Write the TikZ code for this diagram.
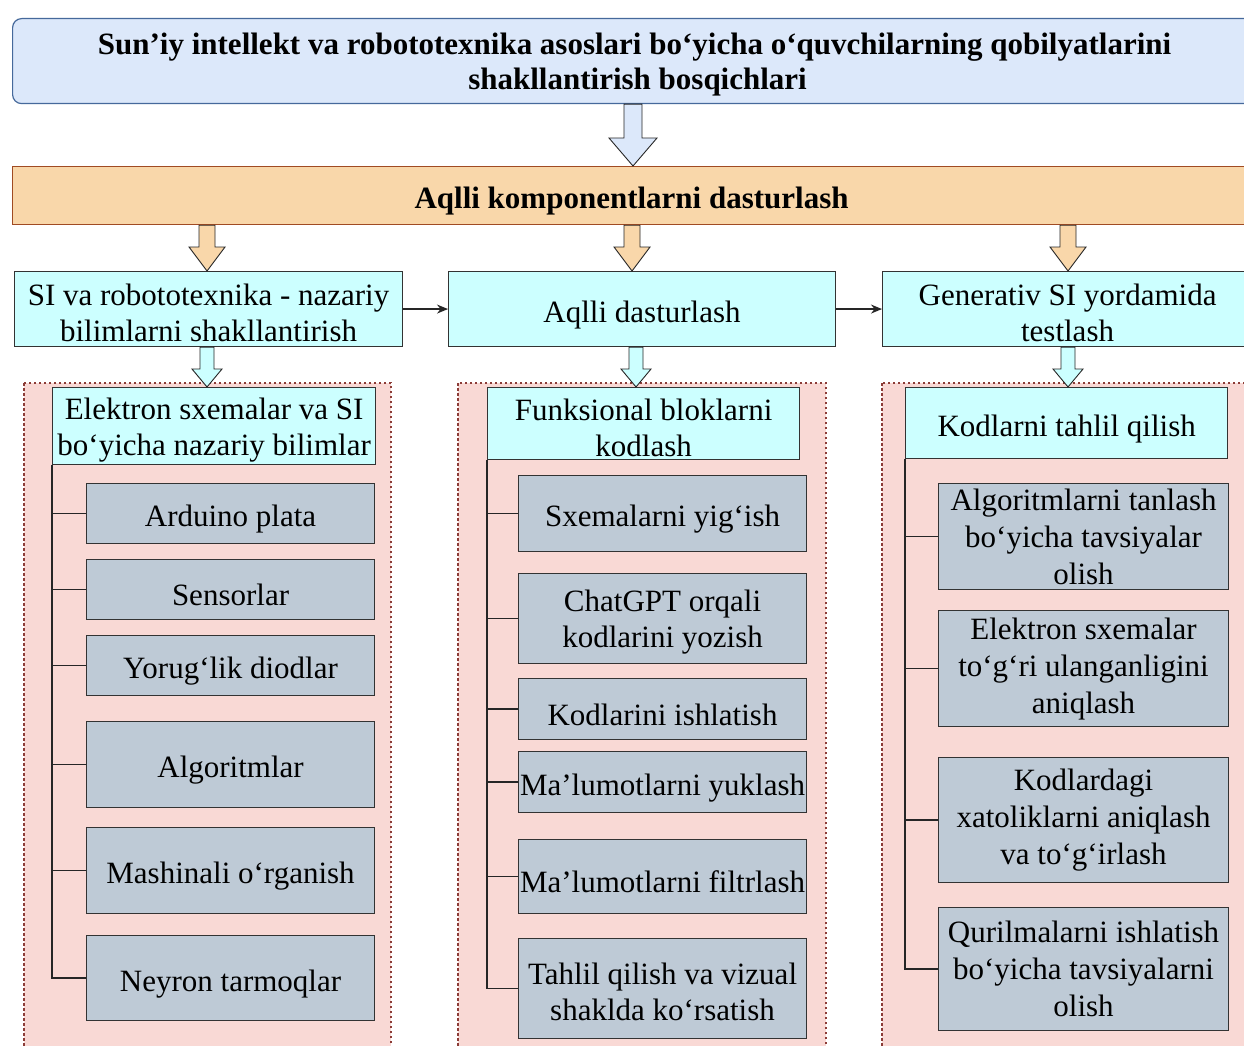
\documentclass[tikz,border=0pt]{standalone}
\usepackage{fontspec}
\setmainfont{Liberation Serif}
\usetikzlibrary{calc,arrows.meta}
\definecolor{topfill}{RGB}{220,232,250}
\definecolor{topdraw}{RGB}{70,105,155}
\definecolor{bandfill}{RGB}{249,215,170}
\definecolor{banddraw}{RGB}{160,75,35}
\definecolor{cyanfill}{RGB}{204,255,255}
\definecolor{pinkfill}{RGB}{249,217,213}
\definecolor{pinkdraw}{RGB}{140,60,55}
\definecolor{itemfill}{RGB}{190,202,214}
\newcommand\lowerone{\rule{0pt}{33pt}}
\newcommand\lowertwo{\rule{0pt}{29pt}}
\newcommand\blkarrow[7]{%
  \draw[fill=#7, draw=black!85, line width=0.9pt] let \p1=(#2), \p2=(#3) in
    (#1pt-#4pt,\y1) -- (#1pt+#4pt,\y1) -- (#1pt+#4pt,\y2+#6pt) -- (#1pt+#5pt,\y2+#6pt)
    -- (#1pt,\y2) -- (#1pt-#5pt,\y2+#6pt) -- (#1pt-#4pt,\y2+#6pt) -- cycle;}
\begin{document}
\begin{tikzpicture}[x=1pt,y=-1pt,
  base/.style={anchor=north west, inner sep=0pt, align=center,
    font=\fontsize{31}{36}\selectfont},
  topbox/.style={base, fill=topfill, draw=topdraw, line width=1.2pt, rounded corners=9pt,
    font=\fontsize{31}{35}\selectfont\bfseries},
  bandbox/.style={base, fill=bandfill, draw=banddraw, line width=1.2pt,
    font=\fontsize{31}{36}\selectfont\bfseries},
  stagebox/.style={base, fill=cyanfill, draw=black!80, line width=1.1pt},
  headbox/.style={base, fill=cyanfill, draw=black!80, line width=1.3pt},
  itembox/.style={base, fill=itemfill, draw=black!80, line width=1.1pt},
  itemthree/.style={itembox, font=\fontsize{31}{37}\selectfont},
  panel/.style={fill=pinkfill, draw=pinkdraw, line width=1.2pt, dash pattern=on 2.5pt off 2.5pt},
  tree/.style={draw=black!85, line width=1.2pt},
  flow/.style={draw=black!85, line width=1.3pt, -{Stealth[length=11pt,width=9pt]}}
  ]
\useasboundingbox (0,0) rectangle (1244,1046);
\fill[white] (0,0) rectangle (1244,1046);

% panels
\draw[panel] (24,383) rectangle (391,1052);
\draw[panel] (458,383) rectangle (826,1052);
\draw[panel] (882,383) rectangle (1252,1052);

% top
\node[topbox, minimum width=1250pt, minimum height=85pt] (top) at (12,18)
  {\lowertwo\hspace*{-6pt}Sun’iy intellekt va robototexnika asoslari bo‘yicha o‘quvchilarning qobilyatlarini\\shakllantirish bosqichlari};
\node[bandbox, minimum width=1250pt, minimum height=58pt] (band) at (12,166)
  {\lowerone\hspace*{-12pt}Aqlli komponentlarni dasturlash};

% stages
\node[stagebox, minimum width=388pt, minimum height=75pt] (A) at (14,271)
  {\lowertwo SI va robototexnika - nazariy\\bilimlarni shakllantirish};
\node[stagebox, minimum width=387pt, minimum height=75pt] (B) at (448,271)
  {\lowerone Aqlli dasturlash};
\node[stagebox, minimum width=370pt, minimum height=75pt] (C) at (882,271)
  {\lowertwo Generativ SI yordamida\\testlash};

% block arrows
\blkarrow{633}{top.south}{band.north}{9}{24}{28}{topfill}
\blkarrow{207}{band.south}{A.north}{8}{18}{24}{bandfill}
\blkarrow{632}{band.south}{B.north}{8}{18}{24}{bandfill}
\blkarrow{1068}{band.south}{C.north}{8}{18}{24}{bandfill}

\draw[flow] (A.east) -- (B.west);
\draw[flow] (B.east) -- (C.west);

% headers
\node[headbox, minimum width=323pt, minimum height=77pt] (h1) at (52,387)
  {\lowertwo Elektron sxemalar va SI\\bo‘yicha nazariy bilimlar};
\node[headbox, minimum width=312pt, minimum height=72pt] (h2) at (487,387)
  {\lowertwo Funksional bloklarni\\kodlash};
\node[headbox, minimum width=322pt, minimum height=71pt] (h3) at (905,387)
  {\lowerone Kodlarni tahlil qilish};

\blkarrow{207}{A.south}{h1.north}{7}{15}{18}{cyanfill}
\blkarrow{636}{B.south}{h2.north}{7}{15}{18}{cyanfill}
\blkarrow{1068}{C.south}{h3.north}{7}{15}{18}{cyanfill}

% panel 1 items
\node[itembox, minimum width=288pt, minimum height=60pt] (i11) at (86,483) {\lowerone Arduino plata};
\node[itembox, minimum width=288pt, minimum height=60pt] (i12) at (86,559) {\lowerone Sensorlar};
\node[itembox, minimum width=288pt, minimum height=60pt] (i13) at (86,635) {\lowerone Yorug‘lik diodlar};
\node[itembox, minimum width=288pt, minimum height=86pt] (i14) at (86,721) {\lowerone Algoritmlar};
\node[itembox, minimum width=288pt, minimum height=86pt] (i15) at (86,827) {\lowerone Mashinali o‘rganish};
\node[itembox, minimum width=288pt, minimum height=85pt] (i16) at (86,935) {\lowerone Neyron tarmoqlar};

% panel 2 items
\node[itembox, minimum width=288pt, minimum height=76pt] (i21) at (518,475) {\lowerone Sxemalarni yig‘ish};
\node[itembox, minimum width=288pt, minimum height=90pt] (i22) at (518,573) {\lowertwo ChatGPT orqali\\kodlarini yozish};
\node[itembox, minimum width=288pt, minimum height=61pt] (i23) at (518,678) {\lowerone Kodlarini ishlatish};
\node[itembox, minimum width=288pt, minimum height=61pt] (i24) at (518,751) {\lowerone Ma’lumotlarni yuklash};
\node[itembox, minimum width=288pt, minimum height=74pt] (i25) at (518,839) {\lowerone Ma’lumotlarni filtrlash};
\node[itembox, minimum width=288pt, minimum height=100pt] (i26) at (518,938) {\lowertwo Tahlil qilish va vizual\\shaklda ko‘rsatish};

% panel 3 items
\node[itemthree, minimum width=290pt, minimum height=106pt] (i31) at (938,483) {Algoritmlarni tanlash\\bo‘yicha tavsiyalar\\olish};
\node[itemthree, minimum width=290pt, minimum height=116pt] (i32) at (938,610) {Elektron sxemalar\\to‘g‘ri ulanganligini\\aniqlash};
\node[itemthree, minimum width=290pt, minimum height=125pt] (i33) at (938,757) {Kodlardagi\\xatoliklarni aniqlash\\va to‘g‘irlash};
\node[itemthree, minimum width=290pt, minimum height=123pt] (i34) at (938,907) {Qurilmalarni ishlatish\\bo‘yicha tavsiyalarni\\olish};

% tree lines
\draw[tree] (h1.south west) |- (i16.west);
\foreach \n in {i11,i12,i13,i14,i15} \draw[tree] (\n.west) -- (\n.west -| h1.south west);
\draw[tree] (h2.south west) |- (i26.west);
\foreach \n in {i21,i22,i23,i24,i25} \draw[tree] (\n.west) -- (\n.west -| h2.south west);
\draw[tree] (h3.south west) |- (i34.west);
\foreach \n in {i31,i32,i33} \draw[tree] (\n.west) -- (\n.west -| h3.south west);
\end{tikzpicture}
\end{document}
